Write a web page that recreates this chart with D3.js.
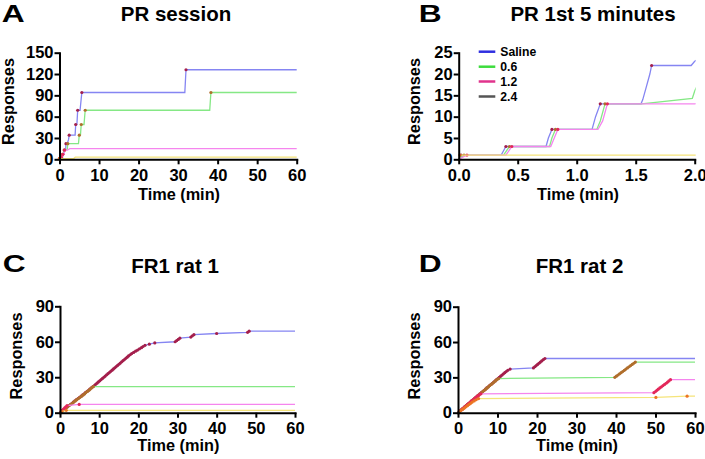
<!DOCTYPE html>
<html>
<head>
<meta charset="utf-8">
<script src="https://cdn.jsdelivr.net/npm/d3@7"></script>
<style>
  body { margin: 0; background: #fff; }
  svg { display: block; font-family: "Liberation Sans", Arial, sans-serif; font-weight: bold; }
</style>
</head>
<body>
<svg id="chart" width="705" height="459"></svg>
<script>
// series order everywhere: Saline, 0.6, 1.2, 2.4
const doses = ['Saline', '0.6', '1.2', '2.4'];
const legendColors = ['#2f2fe0', '#3edc3e', '#e0338c', '#555555'];
const lineColors = ['#8585f2', '#85e885', '#f585ee', '#f5e47a'];
const dotColors = ['#a41f4c', '#b06e2c', '#e3285a', '#ec7424'];

// PR session cumulative record: [time (min), cumulative responses, reinforcer?]
const prSaline = [[0,0,0],[0.02,1,1],[0.36,1,0],[0.38,2,0],[0.40,3,1],[0.74,3,0],[0.76,5,0],[0.79,7,1],
  [1.13,7,0],[1.16,10,0],[1.20,13,1],[1.545,13,0],[1.56,14,0],[1.59,17,0],[1.62,20,0],[1.635,22,1],
  [1.97,22,0],[2.0,23,0],[2.3,28,0],[2.45,34,1],[3.95,34,0],[4.1,49,1],[4.4,49,0],[4.6,69,1],
  [5.2,69,0],[5.65,94,1],[31.7,94,0],[32.0,126,1],[60,126,0]];
const pr06 = [[0,0,0],[0.045,1,1],[0.38,1,0],[0.43,3,1],[0.77,3,0],[0.79,5,0],[0.82,7,1],[1.17,7,0],
  [1.20,9,0],[1.24,13,1],[1.55,13,0],[1.98,14.3,0],[2.0,16,0],[2.1,22,1],[4.8,22,0],[5.0,34,1],
  [5.3,34,0],[5.5,49,1],[6.2,49,0],[6.5,69,1],[38.0,69,0],[38.3,94,1],[60,94,0]];
const pr12 = [[0,0,0],[0.07,1,1],[0.40,1,0],[0.45,3,1],[0.78,3,0],[0.81,5,0],[0.84,7,1],[1.18,7,0],
  [1.22,9,0],[1.26,13,1],[2.0,13,0],[2.6,15,0],[60,15,0]];
const pr24 = [[0,0,0],[0.01,1,1],[3.6,1,0],[4.0,3,0],[60,3,0]];

// FR1 sessions: time (min) of each response, every response reinforced
const fr1Rat1Saline = [0.3,0.7,1.1,1.5,1.9,2.3,2.7,3.1,3.4,3.8,4.2,4.6,5.0,5.4,5.8,6.2,6.5,6.9,7.3,7.6,8.0,8.4,8.76,
  9.1,9.45,9.8,10.15,10.5,10.85,11.2,11.55,11.9,12.25,12.6,12.95,13.3,13.65,14.0,14.35,14.7,15.05,15.4,15.75,
  16.1,16.45,16.8,17.15,17.5,17.9,18.3,18.8,19.3,19.8,20.3,20.8,21.2,21.7,22.8,24.2,29.4,29.8,30.2,30.6,
  33.4,33.8,34.2,40.0,47.9,48.3];
const fr1Rat1_06 = [0.35,0.75,1.15,1.55,1.95,2.35,2.75,3.15,3.5,3.9,4.3,4.7,5.1,5.5,5.9,6.3,6.6,7.0,7.4,7.7,8.1,8.5];
const fr1Rat1_12 = [0.3,0.6,0.9,1.2,1.5,1.8,4.9];
const fr1Rat1_24 = [0.5,1.6];

const fr1Rat2Saline = [0.3,0.65,1.0,1.35,1.7,2.05,2.4,2.75,3.1,3.45,3.8,4.15,4.5,4.85,5.2,5.55,5.9,6.25,6.6,6.95,
  7.3,7.65,8.0,8.35,8.7,9.05,9.4,9.75,10.1,10.45,10.8,11.15,11.5,11.85,12.2,12.6,13.2,
  19.1,19.45,19.8,20.15,20.5,20.85,21.2,21.6,22.0];
const fr1Rat2_06 = [0.35,0.7,1.05,1.4,1.75,2.1,2.45,2.8,3.15,3.5,3.85,4.2,4.55,4.9,5.25,5.6,5.95,6.3,6.65,7.0,
  7.35,7.7,8.05,8.4,8.75,9.1,9.45,9.85,10.3,
  39.7,40.1,40.5,40.9,41.3,41.7,42.1,42.5,42.9,43.3,43.7,44.1,44.5,44.9];
const fr1Rat2_12 = [0.35,0.7,1.05,1.4,1.75,2.1,2.45,2.8,3.15,3.5,3.85,4.2,4.55,4.9,5.3,5.8,
  49.6,50.0,50.35,50.7,51.1,51.5,51.9,52.3,52.7,53.05,53.4,53.8];
const fr1Rat2_24 = [0.4,0.8,1.2,1.6,2.0,2.4,2.8,3.2,3.6,4.1,4.6,5.2,50.1,58.0];

// ticks
const sessionTicksX = [0, 10, 20, 30, 40, 50, 60];
const prTicksY = [0, 30, 60, 90, 120, 150];
const pr5TicksX = [0, 0.5, 1.0, 1.5, 2.0];
const pr5TicksY = [0, 5, 10, 15, 20, 25];
const frTicksY = [0, 30, 60, 90];

// turn a list of response times into a cumulative record
const toRecord = (times, end) => {
  const pts = [[0, 0, 0]];
  times.forEach((t, i) => pts.push([t, i + 1, 1]));
  pts.push([end, times.length, 0]);
  return pts;
};

const svg = d3.select('#chart');

const panels = [
  { id: 'a', letter: 'A', title: 'PR session', titleX: 176, titleY: 20.7, letterX: 1.7, letterY: 21.7,
    left: 59.5, right: 296.7, bottom: 159.3, top: 52.7, xMax: 60, yMax: 150,
    xTicks: sessionTicksX, yTicks: prTicksY, fmt: d3.format('d'),
    yLabelX: 8, yLabelY: 101.5, xLabelX: 179, xLabelY: 200,
    series: [prSaline, pr06, pr12, pr24] },
  { id: 'b', letter: 'B', title: 'PR 1st 5 minutes', titleX: 593, titleY: 20.7, letterX: 418.7, letterY: 21.7,
    left: 458.7, right: 694.7, bottom: 159.3, top: 52.7, xMax: 2, yMax: 25,
    xTicks: pr5TicksX, yTicks: pr5TicksY, fmt: d3.format('.1f'), yFmt: d3.format('d'),
    yLabelX: 414.5, yLabelY: 101.5, xLabelX: 578, xLabelY: 200,
    series: [prSaline, pr06, pr12, pr24], legend: true },
  { id: 'c', letter: 'C', title: 'FR1 rat 1', titleX: 175, titleY: 272.7, letterX: 2.7, letterY: 271.7,
    left: 60, right: 295, bottom: 412.7, top: 306.3, xMax: 60, yMax: 90,
    xTicks: sessionTicksX, yTicks: frTicksY, fmt: d3.format('d'),
    yLabelX: 16, yLabelY: 356, xLabelX: 178.3, xLabelY: 451,
    series: [fr1Rat1Saline, fr1Rat1_06, fr1Rat1_12, fr1Rat1_24].map(t => toRecord(t, 60)) },
  { id: 'd', letter: 'D', title: 'FR1 rat 2', titleX: 579.5, titleY: 272.7, letterX: 418.7, letterY: 271.7,
    left: 458, right: 695, bottom: 412.7, top: 306.7, xMax: 60, yMax: 90,
    xTicks: sessionTicksX, yTicks: frTicksY, fmt: d3.format('d'),
    yLabelX: 414.5, yLabelY: 356, xLabelX: 577, xLabelY: 451,
    series: [fr1Rat2Saline, fr1Rat2_06, fr1Rat2_12, fr1Rat2_24].map(t => toRecord(t, 60)) }
];

panels.forEach(p => {
  const x = d3.scaleLinear().domain([0, p.xMax]).range([p.left, p.right]);
  const y = d3.scaleLinear().domain([0, p.yMax]).range([p.bottom, p.top]);
  const g = svg.append('g');

  g.append('clipPath').attr('id', 'clip-' + p.id)
    .append('rect')
    .attr('x', p.left - 3).attr('y', p.top - 4)
    .attr('width', p.right - p.left + 4).attr('height', p.bottom - p.top + 8);

  const plot = g.append('g').attr('clip-path', `url(#clip-${p.id})`);
  const line = d3.line().x(d => x(d[0])).y(d => y(d[1]));

  p.series.forEach((pts, i) => {
    plot.append('path')
      .datum(pts)
      .attr('d', line)
      .attr('fill', 'none')
      .attr('stroke', lineColors[i])
      .attr('stroke-width', 1.3);
    plot.selectAll(null)
      .data(pts.filter(d => d[2] && d[0] <= p.xMax))
      .join('circle')
      .attr('cx', d => x(d[0]))
      .attr('cy', d => y(d[1]))
      .attr('r', 1.6)
      .attr('fill', dotColors[i]);
  });

  // axes
  const xAxis = g.append('g')
    .attr('transform', `translate(0,${p.bottom})`)
    .call(d3.axisBottom(x).tickValues(p.xTicks).tickFormat(p.fmt).tickSize(5).tickSizeOuter(0).tickPadding(5));
  const yAxis = g.append('g')
    .attr('transform', `translate(${p.left},0)`)
    .call(d3.axisLeft(y).tickValues(p.yTicks).tickFormat(p.yFmt || p.fmt).tickSize(5).tickSizeOuter(0).tickPadding(1));

  [xAxis, yAxis].forEach(a => {
    a.attr('font-family', null).attr('font-size', null);
    a.select('.domain').attr('stroke', '#000').attr('stroke-width', 2).attr('stroke-linecap', 'square');
    a.selectAll('.tick line').attr('stroke', '#000').attr('stroke-width', 2);
    a.selectAll('.tick text').attr('fill', '#000').style('font-size', '16.5px').style('font-weight', 'bold');
  });

  // labels
  g.append('text')
    .attr('x', p.titleX).attr('y', p.titleY)
    .attr('text-anchor', 'middle')
    .style('font-size', '20.5px')
    .text(p.title);

  g.append('text')
    .attr('transform', `translate(${p.letterX},${p.letterY}) scale(1.35,1)`)
    .style('font-size', '23.5px')
    .text(p.letter);

  g.append('text')
    .attr('x', p.xLabelX).attr('y', p.xLabelY)
    .attr('text-anchor', 'middle')
    .style('font-size', '16.3px')
    .text('Time (min)');

  g.append('text')
    .attr('transform', `translate(${p.yLabelX},${p.yLabelY}) rotate(-90)`)
    .attr('text-anchor', 'middle')
    .attr('dy', '0.35em')
    .style('font-size', '16.3px')
    .text('Responses');

  if (p.legend) {
    const lg = g.append('g');
    const rowY = [51.7, 66.7, 81.5, 96.5];
    doses.forEach((d, i) => {
      lg.append('line')
        .attr('x1', 478.7).attr('x2', 495.3)
        .attr('y1', rowY[i]).attr('y2', rowY[i])
        .attr('stroke', legendColors[i])
        .attr('stroke-width', 2.5);
      lg.append('text')
        .attr('x', 500.3).attr('y', rowY[i])
        .attr('dy', '0.36em')
        .style('font-size', '12.2px')
        .text(d);
    });
  }
});
</script>
</body>
</html>
